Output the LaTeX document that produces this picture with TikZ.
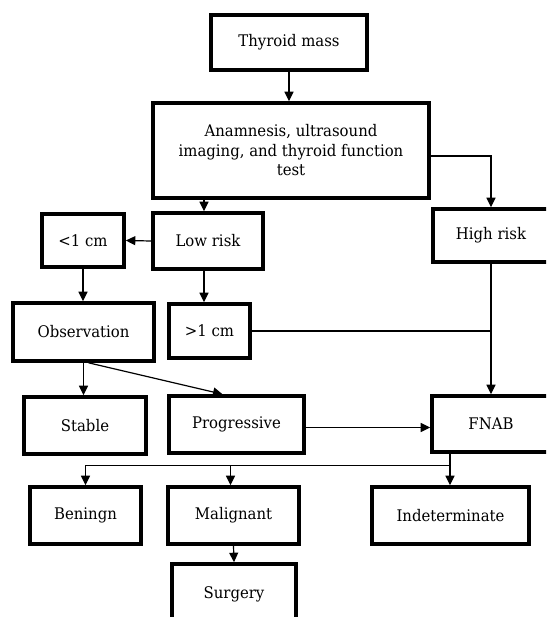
\documentclass[tikz,border=0pt]{standalone}
\usepackage{fontspec}
\setmainfont[FakeStretch=0.93]{DejaVu Serif}
\usetikzlibrary{arrows.meta}
\begin{document}
\begin{tikzpicture}[x=1pt,y=-1pt,
  box/.style={draw, line width=3.6pt, rectangle, inner sep=0pt, align=center,
    font=\fontsize{16}{19.5}\selectfont},
  arr/.style={line width=1.2pt, -{Triangle[length=9.5pt,width=9pt]}},
  ln/.style={line width=1.2pt}]
\useasboundingbox (0,0) rectangle (546,617);
\clip (0,0) rectangle (546,617);

\node[box, minimum width=156pt, minimum height=55pt] (tm) at (289,42.5) {Thyroid mass};
\node[box, minimum width=276pt, minimum height=95pt] (an) at (291,150.5)
  {Anamnesis, ultrasound\\imaging, and thyroid function\\test};
\node[box, minimum width=110pt, minimum height=56pt] (lr) at (208,241) {Low risk};
\node[box, minimum width=82pt, minimum height=53pt] (lt) at (83,240.5) {<1 cm};
\node[box, minimum width=116pt, minimum height=53pt] (hr) at (491,235.5) {High risk};
\node[box, minimum width=141pt, minimum height=58pt] (ob) at (83.5,332) {Observation};
\node[box, minimum width=81pt, minimum height=54pt] (gt) at (209.5,331) {>1 cm};
\node[box, minimum width=122pt, minimum height=57pt] (st) at (85,425.5) {Stable};
\node[box, minimum width=135pt, minimum height=57pt] (pr) at (236.5,424.5) {Progressive};
\node[box, minimum width=118pt, minimum height=56pt] (fn) at (491,424) {FNAB};
\node[box, minimum width=111pt, minimum height=57pt] (be) at (85.5,515.5) {Beningn};
\node[box, minimum width=131pt, minimum height=57pt] (ma) at (233.5,515.5) {Malignant};
\node[box, minimum width=157pt, minimum height=57pt] (in) at (450.5,515.5) {Indeterminate};
\node[box, minimum width=124pt, minimum height=60pt] (su) at (234,594) {Surgery};

\draw[arr] (tm.south) -- (tm.south |- an.north);
\draw[arr] ([yshift=-5.5pt]an.east) -| (hr.north);
\draw[arr] ([xshift=-4pt]lr.north |- an.south) -- ([xshift=-4pt]lr.north);
\draw[arr] (lr.west) -- (lt.west -| lt.east);
\draw[arr] (lt.south) -- (lt.south |- ob.north);
\draw[arr] ([xshift=-4pt]lr.south) -- ([xshift=-4pt]lr.south |- gt.north);
\draw[ln] (gt.east) -- (gt.east -| hr.south);
\draw[arr] (hr.south) -- (fn.north);
\draw[arr] (ob.south) -- (ob.south |- st.north);
\draw[arr] ([xshift=5pt]ob.south) -- ([xshift=-14pt]pr.north);
\draw[arr] ([yshift=-3pt]pr.east) -- ([yshift=-3pt]pr.east -| fn.west);
\draw[ln] ([xshift=-41pt]fn.south) -- ++(0,12) coordinate (j);
\draw[arr] (j) -- (j |- in.north);
\draw[arr] (j) -| (be.north);
\draw[arr] ([xshift=-3pt]j -| ma.north) -- ([xshift=-3pt]ma.north);
\draw[arr] (ma.south) -- (su.north);
\end{tikzpicture}
\end{document}
